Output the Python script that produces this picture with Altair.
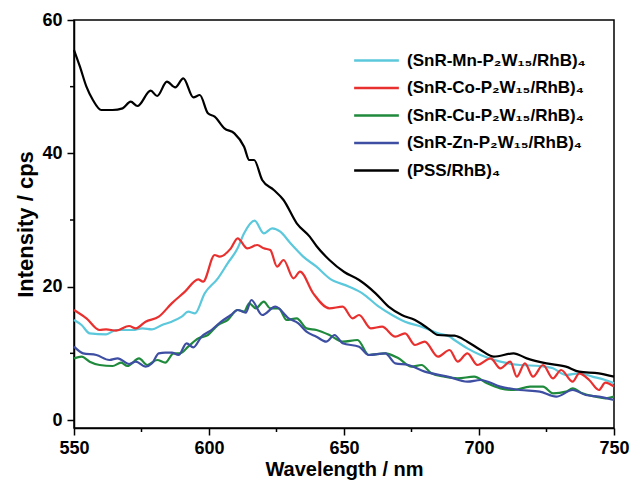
import altair as alt
import pandas as pd

names = [
    "(SnR-Mn-P₂W₁₅/RhB)₄",
    "(SnR-Co-P₂W₁₅/RhB)₄",
    "(SnR-Cu-P₂W₁₅/RhB)₄",
    "(SnR-Zn-P₂W₁₅/RhB)₄",
    "(PSS/RhB)₄",
]
colors = ["#5BC8DC", "#E8302F", "#1F8A3C", "#3E4FA3", "#000000"]

pss_wl = [550, 552.2, 554.6, 557, 560.1, 564.3, 568, 571, 573.5, 578.4, 580.8, 584.4, 587.5, 590.5, 594.2, 596.6,
          599.6, 602.1, 605.7, 609.4, 613, 614.9, 616.7, 619.7, 624, 627.6, 632.5, 637.3, 639.8, 644.6, 650.1,
          655.6, 661.7, 666.5, 671.4, 676.3, 681.1, 684.8, 690.9, 695.7, 700.6, 705.5, 712.8, 717.7, 725, 732.2,
          737.1, 744.4, 750]
pss_i = [55.5, 53, 50, 48, 46.5, 46.5, 46.75, 47.75, 47.1, 49.4, 48.6, 50.75, 49.9, 51.25, 48.4, 48.75,
         46, 45.5, 43.75, 43, 41, 39, 39, 36, 34.5, 33, 29.5, 27.5, 26.1, 24, 22.2,
         21, 19, 17, 15.75, 15, 13.75, 12.75, 12.65, 11.75, 10.5, 9.5, 10, 9.25, 8.5, 8,
         7.25, 7, 6.5]

co_wl = [550, 554.6, 559.5, 561.9, 565.6, 570.4, 572.9, 576.5, 581.4, 586.2, 591.1, 596, 597.8, 602.1, 603.9,
         608.1, 610.6, 614.2, 617.9, 620.3, 622.7, 625.2, 627.6, 631.3, 633.7, 638.6, 644.6, 649.5, 653.2,
         655.6, 659.9, 664.1, 669, 672.6, 676.3, 679.9, 684.8, 689.1, 692.1, 695.7, 699.4, 704.3, 707.9,
         711.6, 714, 717, 720, 723.7, 727.4, 730.4, 734.7, 737.1, 740.8, 744.4, 746.8, 750]
co_i = [16.5, 15.25, 13.5, 13.6, 13.4, 14.1, 13.75, 14.75, 15.5, 17.5, 19.25, 21.1, 20.75, 24.75, 24.5,
        25.75, 27.25, 25.75, 26.25, 25.75, 25.5, 23, 24, 21.25, 22.25, 19, 16.75, 17, 15.25,
        15.75, 13.75, 14, 12.5, 13, 11.25, 11.75, 9.5, 10.5, 8.75, 10, 8.25, 9.25, 7.75,
        8.75, 6.5, 8.5, 6.5, 8.25, 6.25, 7.5, 5.75, 7, 6, 4.5, 5.6, 5]

mn_wl = [550, 552.8, 555.8, 561.9, 565.6, 571.7, 575.3, 578.9, 582.6, 586.2, 589.9, 592.3, 594.8, 598.4,
         603.3, 606.9, 610.6, 613, 616.9, 620.3, 623.4, 626.4, 630, 632.5, 634.9, 639.8, 644.6, 651.9,
         656.8, 662.9, 667.8, 672.6, 678.7, 684.8, 689.1, 690.9, 695.7, 700.6, 707.9, 715.2, 722.5,
         727.4, 732.2, 737.1, 742, 746.8, 750]
mn_i = [15, 14.25, 13, 12.85, 13.5, 13.5, 13.75, 13.6, 14.25, 14.75, 15.5, 16.25, 16, 19,
        21.25, 23.5, 25.75, 28, 29.9, 28, 28.75, 28.25, 26.6, 25.5, 24.5, 23, 21.25, 20,
        19, 17, 15.75, 14.75, 14, 13, 12.5, 12, 10.75, 9.75, 8.75, 8.25, 8.1,
        7.75, 6.75, 7, 6.5, 6, 5.5]

cu_wl = [550, 552.8, 555.8, 559.5, 564.3, 567.4, 569.8, 574.1, 577.1, 580.8, 583.8, 586.9, 589.3, 592.3,
         596, 599.6, 603.3, 606.9, 610.6, 613, 614.9, 617.3, 620.3, 622.7, 625.8, 628.8, 632.5, 636.1,
         639.8, 644.6, 649.5, 655, 659.2, 665.3, 670.2, 675, 678.7, 682.4, 687.2, 692.1, 698.2, 703,
         707.9, 712.8, 718.9, 723.7, 727.4, 732.2, 734.7, 738.3, 743.2, 746.8, 750]
cu_i = [9.25, 9.5, 8.75, 8.25, 8.1, 8.6, 8.1, 9.25, 8.25, 9, 8.6, 10, 10, 11,
        12.25, 12.75, 14.25, 15, 16.5, 16.25, 17.5, 16.75, 17.75, 16.75, 16.75, 15, 15.25, 13.75,
        13.5, 12.75, 11.75, 12, 9.75, 10, 9.25, 8, 8.25, 7, 6.5, 6.25, 6.5, 5.5,
        4.75, 4.5, 5, 5, 4, 4.25, 4.75, 4, 3.5, 3.25, 3.5]

zn_wl = [550, 553.4, 558.3, 563.1, 566.2, 570.4, 572.9, 576.5, 578.9, 581.4, 583.8, 586.2, 588.7, 591.7,
         594.2, 597.2, 600.9, 604.5, 608.1, 610.6, 613.6, 615.7, 619.7, 624.6, 629.5, 633.1, 636.1,
         639.8, 643.4, 646.5, 649.5, 655.6, 659.2, 665.3, 669, 673.8, 679.9, 688.4, 695.7, 700.6,
         707.9, 715.2, 722.5, 728.6, 734.7, 739.5, 744.4, 750]
zn_i = [11, 10, 9.75, 9, 9.25, 8.4, 8.75, 8, 8.5, 10, 10.1, 10.1, 9.75, 11.5,
        10.9, 12.5, 13.5, 14.75, 15.75, 16.5, 16.1, 18, 15.75, 17, 15.25, 14.5, 13.25,
        12.5, 11.75, 12.75, 11.5, 11, 9.75, 10, 8.5, 8.25, 7.25, 6.5, 5.75, 6,
        5, 4.5, 4.25, 3.5, 4.5, 3.75, 3.5, 3]

y_major = [0, 20, 40, 60]
y_minor = [10, 30, 50]
x_major = [550, 600, 650, 700, 750]
x_minor = [575, 625, 675, 725]

series = [(names[0], mn_wl, mn_i, 0), (names[1], co_wl, co_i, 1), (names[2], cu_wl, cu_i, 2),
          (names[3], zn_wl, zn_i, 3), (names[4], pss_wl, pss_i, 4)]
rows = []
for name, wl, iv, order in series:
    for w, v in zip(wl, iv):
        rows.append({"wl": w, "I": v, "s": name, "o": order})
df = pd.DataFrame(rows)

FONT = "Liberation Sans"
xscale = alt.Scale(domain=[550, 750], nice=False, zero=False)
yscale = alt.Scale(domain=[-1.2, 60], nice=False, zero=False)

lines = alt.Chart(df).mark_line(strokeWidth=2.2, interpolate="monotone").encode(
    x=alt.X("wl:Q", scale=xscale, title="Wavelength / nm",
            axis=alt.Axis(values=x_major, format="d", tickSize=7, tickWidth=1.5, domainWidth=1.5,
                          domainColor="black", tickColor="black", labelFontSize=18, labelFontWeight="bold",
                          labelColor="black", labelPadding=4, titleFontSize=20, titleFontWeight="bold",
                          titleColor="black", titlePadding=2, grid=False, labelFont=FONT, titleFont=FONT,
                          labelFlush=False)),
    y=alt.Y("I:Q", scale=yscale, title="Intensity / cps",
            axis=alt.Axis(values=y_major, tickSize=7, tickWidth=1.5, domainWidth=1.5,
                          domainColor="black", tickColor="black", labelFontSize=18, labelFontWeight="bold",
                          labelColor="black", labelPadding=5, titleFontSize=22, titleFontWeight="bold",
                          titleColor="black", titlePadding=4, grid=False, labelFont=FONT, titleFont=FONT)),
    color=alt.Color("s:N", scale=alt.Scale(domain=names, range=colors),
                    legend=alt.Legend(title=None, orient="none", legendX=290, legendY=28,
                                      symbolType="M-2,0H2", symbolStrokeWidth=2.5, symbolSize=500,
                                      symbolFillColor="transparent",
                                      labelFontSize=17, labelFontWeight="bold", labelColor="black",
                                      labelFont=FONT, rowPadding=6.5, labelOffset=18, labelLimit=400)),
    order=alt.Order("o:Q"),
    detail="s:N",
)

ymin = alt.Chart(pd.DataFrame({"v": y_minor})).mark_rule(color="black", strokeWidth=1.5).encode(
    y=alt.Y("v:Q", scale=yscale), x=alt.value(-4), x2=alt.value(0))
xmin = alt.Chart(pd.DataFrame({"v": x_minor})).mark_rule(color="black", strokeWidth=1.5).encode(
    x=alt.X("v:Q", scale=xscale), y=alt.value(408), y2=alt.value(412))

chart = alt.layer(lines, ymin, xmin).properties(
    width=540, height=408,
    autosize=alt.AutoSizeParams(type="none"),
    padding={"left": 66, "top": 12, "right": 16, "bottom": 53},
).configure_view(stroke="black", strokeWidth=1.5)

chart.save("out.html", embed_options={"renderer": "svg", "actions": False})
